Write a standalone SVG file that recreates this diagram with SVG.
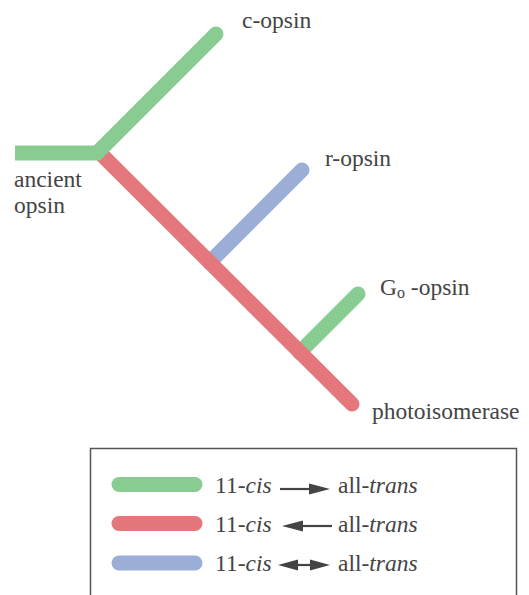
<svg xmlns="http://www.w3.org/2000/svg" width="529" height="595" viewBox="0 0 529 595">
<style>
  text { font-family: 'Liberation Serif', 'DejaVu Serif', serif; font-size: 23.5px; fill: #444; }
  .br { fill: none; stroke-width: 15; stroke-linecap: round; }
  .g { stroke: #88cc92; }
  .r { stroke: #e3777b; }
  .b { stroke: #9aaed8; }
  .leg { fill: none; stroke-width: 15; stroke-linecap: round; }
  .ar { stroke: #444; stroke-width: 2.2; fill: none; }
  .hd { fill: #444; }
  .it { font-style: italic; }
</style>
<rect width="529" height="595" fill="#fff"/>
<g id="connectors">
  <line class="br b" x1="209.5" y1="262.5" x2="302" y2="170"/>
  <line class="br g" x1="299.5" y1="352.5" x2="358" y2="294"/>
  <line class="br r" x1="100" y1="153" x2="352" y2="404"/>
  <path d="M15,153 L97,153 L216,34" fill="none" stroke="#88cc92" stroke-width="15" stroke-linejoin="miter"/>
  <circle cx="216" cy="34" r="7.5" fill="#88cc92"/>
</g>
<g id="ancient-opsin"><text x="14" y="187">ancient</text><text x="14" y="213">opsin</text></g>
<g id="c-opsin"><text x="242" y="28">c-opsin</text></g>
<g id="r-opsin"><text x="325" y="166">r-opsin</text></g>
<g id="go-opsin"><text x="380" y="295">G<tspan font-size="16" dy="3">o</tspan><tspan dy="-3"> -opsin</tspan></text></g>
<g id="photoisomerase"><text x="372" y="419">photoisomerase</text></g>
<g id="legend">
  <rect x="90.5" y="448.5" width="426" height="170" fill="none" stroke="#555" stroke-width="1.5"/>
  <line class="leg g" x1="119" y1="484.5" x2="195" y2="484.5"/>
  <line class="leg r" x1="119" y1="523.5" x2="195" y2="523.5"/>
  <line class="leg b" x1="119" y1="563" x2="195" y2="563"/>
  <text x="215" y="493">11-<tspan class="it">cis</tspan></text>
  <text x="215" y="532">11-<tspan class="it">cis</tspan></text>
  <text x="215" y="571">11-<tspan class="it">cis</tspan></text>
  <text x="338" y="493">all-<tspan class="it">trans</tspan></text>
  <text x="338" y="532">all-<tspan class="it">trans</tspan></text>
  <text x="338" y="571">all-<tspan class="it">trans</tspan></text>
  <line class="ar" x1="280" y1="489" x2="312" y2="489"/>
  <polygon class="hd" points="309,483.5 330,489 309,494.5"/>
  <line class="ar" x1="300" y1="526" x2="332" y2="526"/>
  <polygon class="hd" points="303,520.5 282,526 303,531.5"/>
  <line class="ar" x1="296" y1="565" x2="312" y2="565"/>
  <polygon class="hd" points="298,559.5 278,565 298,570.5"/>
  <polygon class="hd" points="310,559.5 330,565 310,570.5"/>
</g>
</svg>
